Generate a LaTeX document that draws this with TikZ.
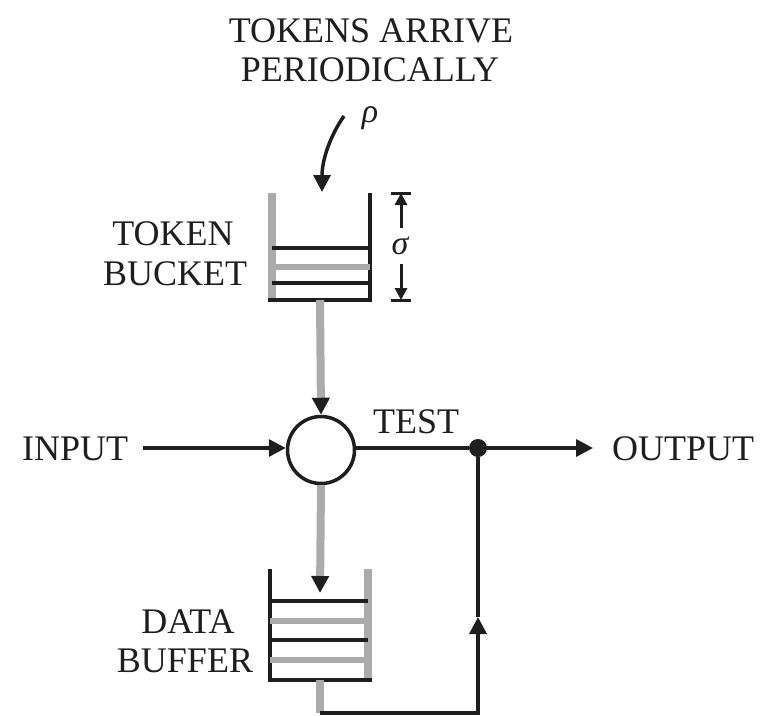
\documentclass[tikz,border=0pt]{standalone}
\usepackage{fontspec}
\setmainfont{Liberation Serif}
\usetikzlibrary{arrows.meta}
\definecolor{ink}{HTML}{1E1E1E}
\definecolor{pipe}{HTML}{ABABAB}
\tikzset{
  lbl/.style={font=\fontsize{36}{40}\selectfont, inner sep=0pt, text=ink},
  thin/.style={draw=ink, line width=3.5pt},
  grey/.style={draw=pipe, line width=8pt},
  greyline/.style={draw=pipe, line width=6pt},
  tip/.style={-{Triangle[length=17pt,width=17pt,color=ink]}},
  sym/.style={font=\fontsize{34}{40}\selectfont\itshape, text=ink, inner sep=2pt}
}
\begin{document}
\begin{tikzpicture}[x=1pt,y=-1pt]
\useasboundingbox (0,0) rectangle (767,715);

% captions
\node[lbl, anchor=base] (arrive) at (371,42) {TOKENS ARRIVE};
\node[lbl, anchor=base] (period) at (370,81) {PERIODICALLY};
\node[lbl, anchor=base] (tok) at (173,245) {TOKEN};
\node[lbl, anchor=base] (bkt) at (175,285) {BUCKET};
\node[lbl, anchor=base] (dat) at (188,633) {DATA};
\node[lbl, anchor=base] (buf) at (185,672) {BUFFER};
\node[lbl, anchor=base west] (inp) at (22,460) {INPUT};
\node[lbl, anchor=base west] (outp) at (612,460) {OUTPUT};
\node[lbl, anchor=base west] (tst) at (373,433) {TEST};

% token arrival rate
\node[sym] (rho) at (370,118) {ρ};
\coordinate (rs) at (344,116);
\coordinate (rt) at (322,192);
\draw[thin, tip] (rs) .. controls (330,136) and (322,160) .. (rt);

% token bucket
\coordinate (tbtl) at (272,193); \coordinate (tbbl) at (272,300);
\coordinate (tbtr) at (370,193); \coordinate (tbbr) at (370,300);
\draw[grey] (tbtl) -- (tbbl);
\draw[thin] (tbtr) -- (tbbr);
\draw[thin] (272,248) -- (370,248);
\draw[greyline] (272,267) -- (370,267);
\draw[thin] (272,283) -- (370,283);
\draw[thin] (268,300) -- (372,300);

% bucket depth
\node[sym, inner sep=9pt] (sig) at (400,246) {σ};
\coordinate (dtop) at (401,193);
\coordinate (dbot) at (401,300);
\draw[thin, line width=3pt, -{Triangle[length=12pt,width=12pt,color=ink]}] (sig.north -| dtop) -- (dtop);
\draw[thin, line width=3pt, -{Triangle[length=12pt,width=12pt,color=ink]}] (sig.south -| dbot) -- (dbot);
\draw[thin, line width=3pt] (391,193) -- (411,193);
\draw[thin, line width=3pt] (391,300) -- (411,300);

% test point
\node[draw=ink, line width=3.5pt, circle, minimum size=67pt, inner sep=0pt] (test) at (321,450) {};
\coordinate (tbout) at (320,300);
\draw[grey, tip] (tbout) -- (test.north);

% input / output
\coordinate (inl) at (143,448);
\draw[thin, tip] (inl) -- (test.west |- inl);
\node[circle, fill=ink, minimum size=18pt, inner sep=0pt] (dot) at (478,448) {};
\draw[thin] (test.east |- dot) -- (dot);
\coordinate (outr) at (593,448);
\draw[thin, tip] (dot) -- (outr);

% data buffer
\coordinate (dbtl) at (270,569); \coordinate (dbbl) at (270,680);
\coordinate (dbtr) at (368,569); \coordinate (dbbr) at (368,680);
\draw[grey] (dbtr) -- (dbbr);
\draw[thin] (dbtl) -- (dbbl);
\draw[thin] (270,601) -- (368,601);
\draw[greyline] (270,621) -- (368,621);
\draw[thin] (270,640) -- (368,640);
\draw[greyline] (270,660) -- (368,660);
\draw[thin] (268,680) -- (372,680);
\coordinate (dbin) at (320,593);
\draw[grey, tip] (test.south) -- (dbin);

% return path
\coordinate (dbout) at (320,680);
\coordinate (corner) at (320,713);
\coordinate (ret) at (478,713);
\coordinate (up) at (478,617);
\draw[grey] (dbout) -- (corner);
\draw[thin, tip] (corner) -- (ret) -- (up);
\draw[thin] (up) -- (dot);
\end{tikzpicture}
\end{document}
